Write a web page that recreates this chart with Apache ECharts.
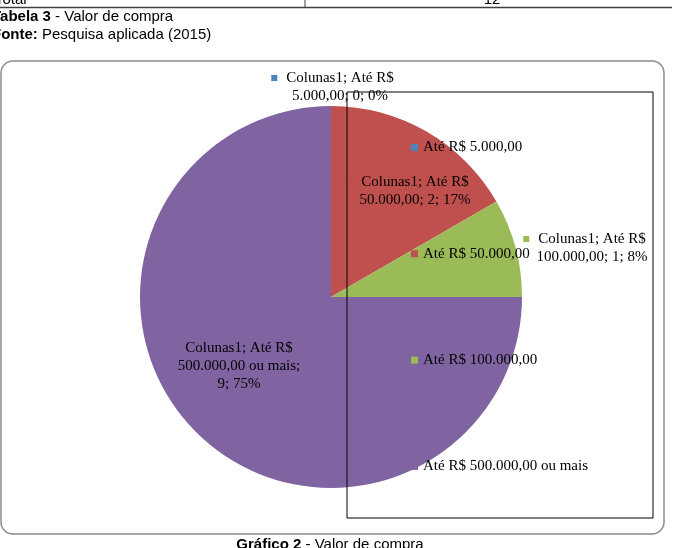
<!DOCTYPE html>
<html><head><meta charset="utf-8">
<script src="https://cdn.jsdelivr.net/npm/echarts@6/dist/echarts.min.js"></script>
<style>html,body{margin:0;padding:0;background:#fff;overflow:hidden}#c{width:673px;height:548px}</style>
</head><body><div id="c"></div>
<script>
// ---- data ----
const categories = ['Até R$ 5.000,00', 'Até R$ 50.000,00', 'Até R$ 100.000,00', 'Até R$ 500.000,00 ou mais'];
const values = [0, 2, 1, 9];
const seriesName = 'Colunas1';
const tableRow = ['Total', '12'];
const tableCaption = ['Tabela 3', ' - Valor de compra'];
const sourceLine = ['Fonte:', ' Pesquisa aplicada (2015)'];
const chartCaption = ['Gráfico 2', ' - Valor de compra'];

// ---- styles ----
const colors = ['#4F81BD', '#C0504D', '#9BBB59', '#8064A2'];
const labelCenters = [[340, 87], [415, 191], [592, 248], [239, 366]];
const serif = 'Liberation Serif, Times New Roman, serif';
const sans = 'Liberation Sans, Arial, sans-serif';

const rich = { g: { width: 9 }, pad: { width: 15 } };
colors.forEach((c, i) => { rich['m' + i] = { width: 6, height: 6, backgroundColor: c }; });

function labelText(p) {
  const pre = 'Até R$';
  const rest = p.name.slice(pre.length + 1);
  const line1 = '{m' + p.dataIndex + '|}{g|}' + seriesName + '; ' + pre + '{pad|}';
  const tail = p.value + '; ' + p.percent + '%';
  if (rest.indexOf(' ') >= 0) return [line1, rest + ';', tail].join('\n');
  return line1 + '\n' + rest + '; ' + tail;
}

const boldRich = { b: { fontWeight: 'bold', fontFamily: sans, fontSize: 15 } };

const chart = echarts.init(document.getElementById('c'), null, { renderer: 'canvas' });
chart.setOption({
  animation: false,
  color: colors,
  legend: {
    orient: 'vertical',
    left: 411,
    top: 140,
    padding: 0,
    itemWidth: 7,
    itemHeight: 7,
    itemGap: 91.3,
    icon: 'rect',
    selectedMode: false,
    data: categories,
    textStyle: { fontFamily: serif, fontSize: 15, color: '#000', lineHeight: 15 }
  },
  series: [{
    type: 'pie',
    name: seriesName,
    center: [331, 297],
    radius: 191,
    startAngle: 90,
    clockwise: true,
    percentPrecision: 0,
    avoidLabelOverlap: false,
    emphasis: { disabled: true },
    itemStyle: { borderWidth: 0 },
    labelLine: { show: false },
    label: {
      show: true,
      position: 'inside',
      formatter: labelText,
      rich: rich,
      fontFamily: serif,
      fontSize: 15,
      lineHeight: 18,
      color: '#000',
      align: 'center'
    },
    labelLayout: function (p) {
      const c = labelCenters[p.dataIndex];
      return { x: c[0], y: c[1], align: 'center', verticalAlign: 'middle' };
    },
    data: categories.map((n, i) => ({ name: n, value: values[i] }))
  }],
  graphic: [
    // table remnant at the top
    { type: 'text', z: 10, x: -5, y: 7, style: { text: tableRow[0], fontFamily: sans, fontSize: 15, fill: '#000', verticalAlign: 'bottom' } },
    { type: 'text', z: 10, x: 492, y: 7, style: { text: tableRow[1], fontFamily: sans, fontSize: 15, fill: '#000', align: 'center', verticalAlign: 'bottom' } },
    { type: 'line', z: 10, shape: { x1: 305, y1: 0, x2: 305, y2: 7 }, style: { stroke: '#404040', lineWidth: 1 } },
    { type: 'line', z: 10, shape: { x1: 0, y1: 7.5, x2: 672, y2: 7.5 }, style: { stroke: '#404040', lineWidth: 1.5 } },
    // captions
    { type: 'text', z: 10, x: -8, y: 9, style: { text: '{b|' + tableCaption[0] + '}' + tableCaption[1], fontFamily: sans, fontSize: 15, fill: '#000', rich: boldRich } },
    { type: 'text', z: 10, x: -8, y: 27, style: { text: '{b|' + sourceLine[0] + '}' + sourceLine[1], fontFamily: sans, fontSize: 15, fill: '#000', rich: boldRich } },
    // chart frame
    { type: 'rect', z: 10, shape: { x: 1, y: 61, width: 663, height: 473, r: 12 }, style: { fill: 'none', stroke: '#8c8c8c', lineWidth: 1.5 } },
    // legend box
    { type: 'rect', z: 10, shape: { x: 347, y: 92, width: 306, height: 426 }, style: { fill: 'none', stroke: '#000', lineWidth: 1 } },
    // figure caption
    { type: 'text', z: 10, x: 330, y: 537, style: { text: '{b|' + chartCaption[0] + '}' + chartCaption[1], fontFamily: sans, fontSize: 15, fill: '#000', align: 'center', rich: boldRich } }
  ]
});
</script>
</body></html>
